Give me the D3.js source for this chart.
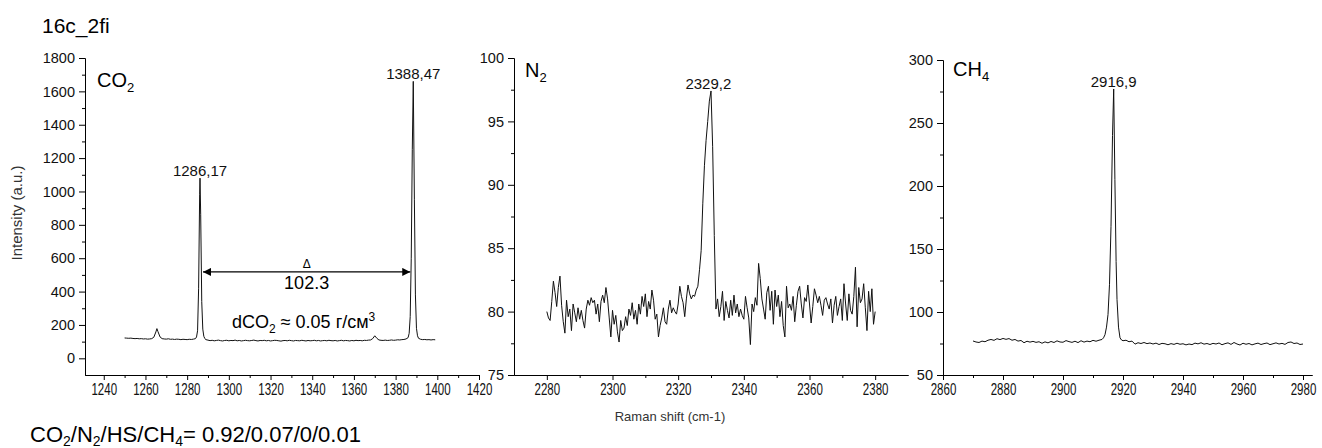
<!DOCTYPE html>
<head>
<meta charset="utf-8">
<style>
  body { margin: 0; background: #fff; }
  svg { display: block; font-family: 'Liberation Sans', Arial, sans-serif; }
</style>
<script src="https://cdn.jsdelivr.net/npm/d3@7"></script>
</head>
<body>
<svg id="chart" width="1322" height="448"></svg>
<script>
// ---- data ----
const co2Shift = [
  1250, 1251, 1252, 1253, 1254, 1255, 1256, 1257, 1258, 1259, 1260, 1261, 1262, 1263, 1264, 1265, 1265.5, 1266, 1267,
  1268, 1269, 1270, 1271, 1272, 1273, 1274, 1275, 1276, 1277, 1278, 1279, 1280, 1281, 1282, 1283, 1284, 1284.5,
  1285, 1285.5, 1286, 1286.17, 1286.5, 1287, 1287.5, 1288, 1288.5, 1289, 1290,
  1291, 1292, 1293, 1294, 1295, 1296, 1297, 1298, 1299, 1300, 1301, 1302, 1303, 1304, 1305, 1306, 1307, 1308, 1309,
  1310, 1311, 1312, 1313, 1314, 1315, 1316, 1317, 1318, 1319, 1320, 1321, 1322, 1323, 1324, 1325, 1326, 1327, 1328,
  1329, 1330, 1331, 1332, 1333, 1334, 1335, 1336, 1337, 1338, 1339, 1340, 1341, 1342, 1343, 1344, 1345, 1346, 1347,
  1348, 1349, 1350, 1351, 1352, 1353, 1354, 1355, 1356, 1357, 1358, 1359, 1360, 1361, 1362, 1363, 1364, 1365, 1366,
  1367, 1368, 1369, 1370, 1371, 1372, 1373, 1374, 1375, 1376, 1377, 1378, 1379, 1380, 1381, 1382, 1383, 1384, 1385,
  1386, 1386.5, 1387, 1387.5, 1388, 1388.47, 1389, 1389.5, 1390, 1390.5, 1391, 1392, 1393, 1394, 1395, 1396, 1397,
  1398, 1399
]
const co2Intensity = [
  122, 121, 120, 121, 119, 118, 119, 117, 118, 116, 117, 115, 116, 118, 126, 158, 178, 160, 128,
  118, 116, 115, 117, 114, 115, 113, 115, 114, 112, 114, 113, 112, 114, 113, 115, 118, 128,
  165, 420, 980, 1080, 860, 340, 175, 132, 118, 112, 109,
  106, 108, 105, 107, 109, 106, 104, 107, 108, 105, 107, 106, 109, 105, 107, 104, 106, 108, 106,
  105, 107, 109, 106, 104, 107, 106, 108, 105, 107, 104, 106, 108, 107, 105, 103, 106, 107, 105,
  108, 106, 104, 107, 106, 105, 108, 106, 104, 107, 105, 106, 108, 105, 107, 104, 106, 107, 105,
  108, 106, 105, 107, 104, 106, 108, 105, 107, 106, 104, 107, 105, 108, 106, 107, 105, 108, 107,
  109, 110, 118, 135, 120, 110, 108, 107, 109, 107, 108, 110, 108, 109, 111, 110, 112, 113, 116,
  124, 150, 250, 600, 1250, 1660, 950, 380, 180, 135, 120, 114, 112, 113, 111, 112, 110,
  112, 111
]
const co2Peaks = [1286.17, 1388.47]
const co2PeakLabels = ['1286,17', '1388,47']
const co2Delta = '102.3'

// N2: evenly sampled every 0.5 cm-1 from 2280
const n2Start = 2280
const n2Step = 0.5
const n2Intensity = [
  80.0, 79.5, 79.3, 80.8, 82.4, 81.5, 80.4, 81.9, 82.8, 80.5, 79.2, 78.3, 80.9, 79.6, 80.2, 78.5, 80.6, 79.9, 79.2, 80.3,
  79.4, 80.1, 79.3, 78.7, 80.2, 80.9, 80.5, 81.1, 80.7, 80.9, 79.8, 80.6, 79.2, 80.8, 81.3, 80.7, 81.9, 81.0, 79.5, 78.0,
  80.1, 79.0, 79.7, 78.4, 77.6, 79.3, 78.5, 78.7, 79.6, 78.9, 80.2, 79.7, 80.7, 79.4, 80.1, 79.0, 80.6, 79.8, 81.2, 80.4,
  81.4, 79.6, 80.8, 80.2, 81.7, 80.9, 79.4, 79.8, 78.0, 78.9, 79.5, 80.3, 79.2, 79.0, 80.2, 80.9, 79.9, 80.3, 80.0, 79.8,
  80.6, 82.0, 81.2, 80.7, 79.6, 81.0, 82.1, 81.4, 81.0, 81.3, 81.2, 81.7, 82.0, 83.3, 84.8, 88.5, 91.5, 93.5, 95.0, 96.6,
  97.4, 93.0, 86.0, 80.2, 81.0, 79.6, 80.4, 81.6, 79.3, 80.8, 80.1, 79.5, 80.9, 79.7, 81.3, 79.9, 80.6, 79.6, 80.2, 79.7,
  79.4, 81.2, 80.3, 79.5, 77.4, 80.6, 80.0, 81.1, 80.5, 83.8, 82.6, 81.0, 80.2, 79.4, 81.5, 82.0, 80.1, 81.6, 79.0, 81.7,
  80.4, 81.3, 79.6, 80.8, 78.9, 78.0, 82.0, 80.3, 80.6, 80.1, 81.2, 79.2, 80.5, 81.6, 82.0, 80.6, 79.5, 81.1, 80.8, 82.1,
  80.6, 79.1, 80.4, 81.8, 81.3, 80.7, 81.2, 80.5, 79.7, 80.9, 81.1, 80.6, 80.2, 81.0, 79.1, 80.5, 81.2, 79.7, 80.4, 81.0,
  79.3, 82.2, 80.6, 79.3, 81.4, 80.1, 79.8, 81.2, 83.5, 78.8, 81.9, 80.7, 81.0, 82.2, 80.3, 78.5, 81.6, 80.0, 81.8, 79.0,
  80.0
]
const n2Peak = 2329.2
const n2PeakLabel = '2329,2'

const ch4Shift = [
  2870, 2871, 2872, 2873, 2874, 2875, 2876, 2877, 2878, 2879, 2880, 2881, 2882, 2883, 2884, 2885, 2886, 2887, 2888,
  2889, 2890, 2891, 2892, 2893, 2894, 2895, 2896, 2897, 2898, 2899, 2900, 2901, 2902, 2903, 2904, 2905, 2906, 2907,
  2908, 2909, 2910, 2911, 2912, 2913, 2913.5, 2914, 2914.5, 2915, 2915.5, 2916, 2916.5, 2916.9, 2917.3, 2917.7, 2918,
  2918.5, 2919, 2919.5, 2920, 2921, 2922, 2923, 2924, 2925, 2926, 2927, 2928, 2929, 2930, 2931, 2932, 2933, 2934,
  2935, 2936, 2937, 2938, 2939, 2940, 2941, 2942, 2943, 2944, 2945, 2946, 2947, 2948, 2949, 2950, 2951, 2952, 2953,
  2954, 2955, 2956, 2957, 2958, 2959, 2960, 2961, 2962, 2963, 2964, 2965, 2966, 2967, 2968, 2969, 2970, 2971, 2972,
  2973, 2974, 2975, 2976, 2977, 2978, 2979, 2980
]
const ch4Intensity = [
  77.0, 76.2, 75.8, 76.9, 76.4, 77.6, 78.2, 77.5, 78.8, 78.1, 79.0, 78.3, 78.9, 77.6, 78.2, 76.9, 77.4, 75.6, 76.8,
  76.1, 76.7, 75.9, 76.4, 75.2, 76.3, 75.5, 76.6, 75.8, 77.1, 76.2, 76.0, 77.3, 76.5, 75.9, 76.8, 75.7, 77.2, 76.1,
  76.9, 76.4, 77.5, 76.8, 77.6, 78.2, 79.5, 82, 88, 98, 122, 168, 240, 277, 205, 140, 110,
  88, 79.5, 77.8, 77.2, 77.6, 76.4, 76.9, 74.5, 75.6, 75.0, 75.8, 74.9, 75.4, 74.6, 75.3, 74.2, 75.1, 74.8,
  74.0, 74.9, 74.3, 75.2, 74.4, 74.8, 73.9, 74.6, 74.1, 75.3, 74.7, 75.6, 74.5, 75.0, 74.2, 75.1, 74.6, 75.4, 74.0,
  74.9, 75.5, 74.3, 75.8, 74.6, 73.8, 75.2, 74.4, 75.0, 73.9, 74.7, 75.3, 74.2, 74.9, 75.4, 74.1, 74.8, 75.5, 74.6,
  75.1, 74.3, 75.8, 76.2, 75.0, 75.4, 74.2, 74.6
]
const ch4Peak = 2916.9
const ch4PeakLabel = '2916,9'

// tick labels
const co2XTicks = [1240, 1260, 1280, 1300, 1320, 1340, 1360, 1380, 1400, 1420]
const co2YTicks = [0, 200, 400, 600, 800, 1000, 1200, 1400, 1600, 1800]
const n2XTicks = [2280, 2300, 2320, 2340, 2360, 2380]
const n2YTicks = [75, 80, 85, 90, 95, 100]
const ch4XTicks = [2860, 2880, 2900, 2920, 2940, 2960, 2980]
const ch4YTicks = [50, 100, 150, 200, 250, 300]

const svg = d3.select('#chart')
const bottom = 375
const fmt = d => String(d)

const panels = [
  {
    name: ['CO', '2'], nameX: 97, nameY: 87,
    x: d3.scaleLinear([1231, 1420], [85, 479]),
    y: d3.scaleLinear([-100, 1800], [bottom, 58]),
    xTicks: co2XTicks, xMinor: d3.range(1250, 1420, 20),
    yTicks: co2YTicks, yMinor: d3.range(100, 1800, 200),
    pts: co2Shift.map((s, i) => [s, co2Intensity[i]]),
    peaks: co2Peaks.map((p, i) => ({ x: p, label: co2PeakLabels[i] })),
  },
  {
    name: ['N', '2'], nameX: 525, nameY: 77,
    x: d3.scaleLinear([2270, 2390], [514, 908]),
    y: d3.scaleLinear([75, 100], [bottom, 58]),
    xTicks: n2XTicks, xMinor: d3.range(2290, 2390, 20),
    yTicks: n2YTicks, yMinor: d3.range(77.5, 100, 5),
    pts: n2Intensity.map((v, i) => [n2Start + i * n2Step, v]),
    peaks: [{ x: n2Peak, label: n2PeakLabel }],
  },
  {
    name: ['CH', '4'], nameX: 953, nameY: 76,
    x: d3.scaleLinear([2860, 2983], [943, 1312]),
    y: d3.scaleLinear([50, 300], [bottom, 60]),
    xTicks: ch4XTicks, xMinor: d3.range(2870, 2983, 20),
    yTicks: ch4YTicks, yMinor: d3.range(75, 300, 50),
    pts: ch4Shift.map((s, i) => [s, ch4Intensity[i]]),
    peaks: [{ x: ch4Peak, label: ch4PeakLabel }],
  },
]

const style_axis = g => {
  g.select('.domain').attr('stroke', '#000')
  g.selectAll('.tick line').attr('stroke', '#000')
  g.selectAll('.tick text').attr('fill', '#111')
}

panels.forEach(p => {
  const [x0, x1] = p.x.range()
  const [yb, yt] = p.y.range()

  // minor ticks first, then major axis on top
  svg.append('g').attr('transform', `translate(0,${yb})`)
    .call(d3.axisBottom(p.x).tickValues(p.xMinor).tickSize(3).tickSizeOuter(0).tickFormat(''))
    .call(style_axis)
  svg.append('g').attr('transform', `translate(0,${yb})`)
    .call(d3.axisBottom(p.x).tickValues(p.xTicks).tickFormat(fmt).tickSize(5).tickSizeOuter(0).tickPadding(4))
    .call(style_axis)
    .call(g => g.selectAll('.tick text')
      .attr('font-size', 16).attr('font-family', null)
      .attr('transform', 'scale(0.72,1)'))

  svg.append('g').attr('transform', `translate(${x0},0)`)
    .call(d3.axisLeft(p.y).tickValues(p.yMinor).tickSize(3).tickSizeOuter(0).tickFormat(''))
    .call(style_axis)
  svg.append('g').attr('transform', `translate(${x0},0)`)
    .call(d3.axisLeft(p.y).tickValues(p.yTicks).tickFormat(fmt).tickSize(6).tickSizeOuter(0).tickPadding(4))
    .call(style_axis)
    .call(g => g.selectAll('.tick text').attr('font-size', 14.5).attr('font-family', null))

  // spectrum
  const line = d3.line().x(d => p.x(d[0])).y(d => p.y(d[1]))
  svg.append('path').datum(p.pts)
    .attr('fill', 'none').attr('stroke', '#111').attr('stroke-width', 1)
    .attr('stroke-linejoin', 'round')
    .attr('d', line)

  // peak labels
  p.peaks.forEach(pk => {
    const top = d3.max(p.pts.filter(d => Math.abs(d[0] - pk.x) < 1.5), d => d[1])
    svg.append('text')
      .attr('x', p.x(pk.x)).attr('y', p.y(top) - 2)
      .attr('text-anchor', 'middle').attr('font-size', 15).attr('fill', '#111')
      .text(pk.label)
  })

  // species name
  const t = svg.append('text').attr('x', p.nameX).attr('y', p.nameY).attr('font-size', 20)
  t.append('tspan').text(p.name[0])
  t.append('tspan').attr('font-size', 13).attr('dy', 5).text(p.name[1])
})

// delta arrow between the CO2 peaks
{
  const p = panels[0]
  const defs = svg.append('defs')
  defs.append('marker').attr('id', 'arrow')
    .attr('viewBox', '0 0 10 10').attr('refX', 10).attr('refY', 5)
    .attr('markerWidth', 10).attr('markerHeight', 8).attr('markerUnits', 'userSpaceOnUse')
    .attr('orient', 'auto-start-reverse')
    .append('path').attr('d', 'M0,0 L10,5 L0,10 Z').attr('fill', '#000')
  const ay = p.y(518)
  const ax0 = p.x(co2Peaks[0]) + 3, ax1 = p.x(co2Peaks[1]) - 3
  svg.append('line')
    .attr('x1', ax0).attr('x2', ax1).attr('y1', ay).attr('y2', ay)
    .attr('stroke', '#000').attr('stroke-width', 1.2)
    .attr('marker-start', 'url(#arrow)').attr('marker-end', 'url(#arrow)')
  const mid = (ax0 + ax1) / 2
  svg.append('text').attr('x', mid).attr('y', ay - 4).attr('text-anchor', 'middle')
    .attr('font-size', 12).text('Δ')
  svg.append('text').attr('x', mid).attr('y', ay + 17).attr('text-anchor', 'middle')
    .attr('font-size', 18).text(co2Delta)

  const d = svg.append('text').attr('x', mid - 3).attr('y', 328).attr('text-anchor', 'middle').attr('font-size', 18)
  d.append('tspan').text('dCO')
  d.append('tspan').attr('font-size', 12).attr('dy', 5).text('2')
  d.append('tspan').attr('dy', -5).text(' ≈ 0.05 г/см')
  d.append('tspan').attr('font-size', 12).attr('dy', -7).text('3')
}

// titles
svg.append('text').attr('x', 42).attr('y', 33).attr('font-size', 21).text('16c_2fi')

svg.append('text')
  .attr('transform', 'translate(22,213) rotate(-90)')
  .attr('text-anchor', 'middle').attr('font-size', 15).attr('fill', '#333')
  .text('Intensity (a.u.)')

svg.append('text')
  .attr('x', 670).attr('y', 421)
  .attr('text-anchor', 'middle').attr('font-size', 13).attr('fill', '#333')
  .text('Raman shift (cm-1)')

{
  const b = svg.append('text').attr('x', 30).attr('y', 442).attr('font-size', 22)
  b.append('tspan').text('CO')
  b.append('tspan').attr('font-size', 14).attr('dy', 4).text('2')
  b.append('tspan').attr('dy', -4).text('/N')
  b.append('tspan').attr('font-size', 14).attr('dy', 4).text('2')
  b.append('tspan').attr('dy', -4).text('/HS/CH')
  b.append('tspan').attr('font-size', 14).attr('dy', 4).text('4')
  b.append('tspan').attr('dy', -4).text('= 0.92/0.07/0/0.01')
}
</script>
</body>
